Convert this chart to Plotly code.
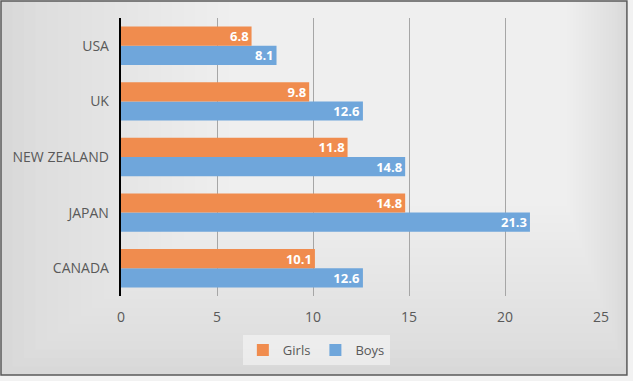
import plotly.graph_objects as go

categories = ["CANADA", "JAPAN", "NEW ZEALAND", "UK", "USA"]
girls = [10.1, 14.8, 11.8, 9.8, 6.8]
boys = [12.6, 21.3, 14.8, 12.6, 8.1]
x_ticks = [0, 5, 10, 15, 20, 25]

FONT = "Open Sans"
GRAY = "#595959"

fig = go.Figure()
fig.add_trace(go.Bar(
    y=categories, x=boys, name="Boys", orientation="h",
    marker=dict(color="#6FA6DB", line=dict(width=0)),
    text=[f"{v:.1f}" for v in boys], textposition="inside", insidetextanchor="end",
    constraintext="none",
    textfont=dict(color="white", size=13, family=FONT, weight="bold"),
))
fig.add_trace(go.Bar(
    y=categories, x=girls, name="Girls", orientation="h",
    marker=dict(color="#F08C4E", line=dict(width=0)),
    text=[f"{v:.1f}" for v in girls], textposition="inside", insidetextanchor="end",
    constraintext="none",
    textfont=dict(color="white", size=13, family=FONT, weight="bold"),
))

X0, X1, Y0, Y1 = -0.25, 1.054, -0.284, 1.061
shapes = []
shapes.append(dict(type="rect", xref="paper", yref="paper", x0=X0, x1=X1, y0=Y0, y1=Y1,
                   fillcolor="#d6d6d6", line=dict(width=0), layer="below"))
steps = 40
cx, cy = 0.7, 1.061
for i in range(steps):
    f = i / steps
    shapes.append(dict(type="rect", xref="paper", yref="paper",
                       x0=X0 + (cx - X0) * f, x1=X1 - (X1 - cx) * f * 0.7,
                       y0=Y0 + (cy - Y0) * f * 0.9, y1=Y1,
                       fillcolor="white", opacity=0.06, line=dict(width=0), layer="below"))
shapes.append(dict(type="rect", xref="paper", yref="paper", x0=X0, x1=X1, y0=Y0, y1=Y1,
                   fillcolor="rgba(0,0,0,0)", line=dict(color="#5a5a5a", width=1.5), layer="above"))

fig.update_layout(
    width=633, height=381,
    margin=dict(l=121, r=32, t=18, b=85, autoexpand=False),
    paper_bgcolor="#f2f2f2",
    plot_bgcolor="rgba(0,0,0,0)",
    barmode="group",
    bargap=0.31,
    bargroupgap=0.0,
    font=dict(family=FONT, color=GRAY, size=13),
    shapes=shapes,
    legend=dict(orientation="h", x=0.407, xanchor="center", y=-0.194, yanchor="middle",
                traceorder="reversed", bgcolor="rgba(255,255,255,0.45)",
                font=dict(size=13, color=GRAY), itemwidth=30),
    showlegend=True,
)
fig.update_xaxes(range=[0, 25], tickvals=x_ticks, showgrid=True, gridcolor="#a6a6a6", gridwidth=1,
                 zeroline=False, showline=False, tickfont=dict(size=14, color=GRAY), automargin=False,
                 ticklen=8, ticks="outside", tickcolor="rgba(0,0,0,0)")
fig.update_yaxes(categoryorder="array", categoryarray=categories, showline=True, linecolor="#000000",
                 linewidth=2, ticks="", ticksuffix="  ", tickfont=dict(size=14, color=GRAY),
                 showgrid=False, automargin=False)

fig.write_html("out.html", config={"displayModeBar": False},
               post_script="document.body.style.margin='0';")
